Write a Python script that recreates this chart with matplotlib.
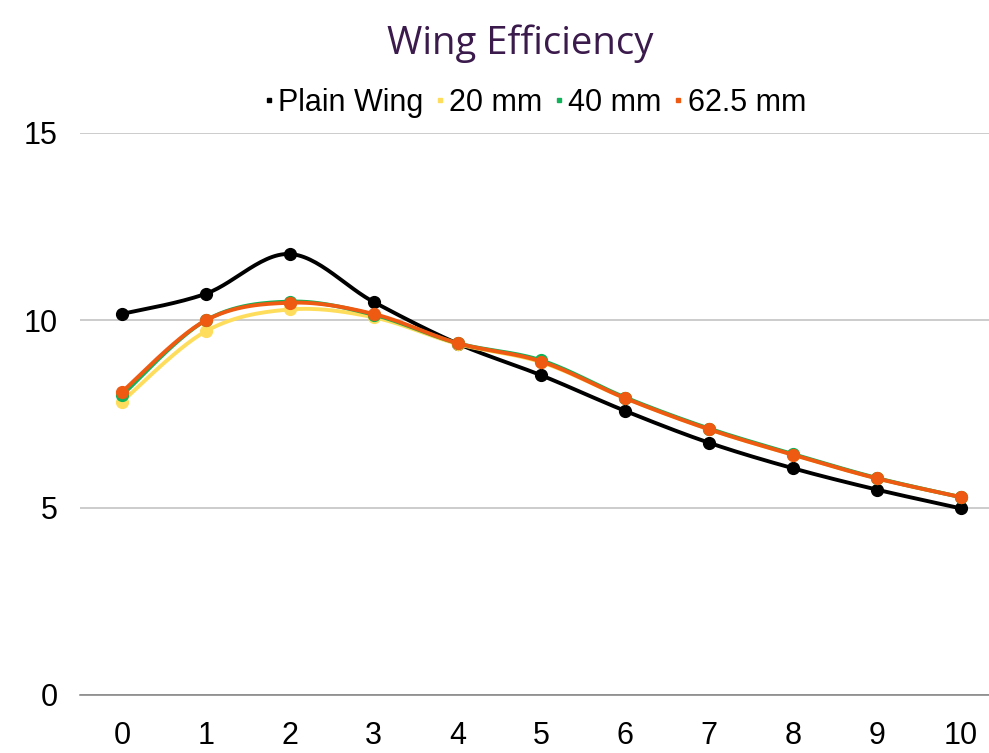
import matplotlib.pyplot as plt
import numpy as np
from matplotlib.lines import Line2D

plt.rcParams['font.family'] = ['Liberation Sans', 'DejaVu Sans']

# data
x_vals = [0, 1, 2, 3, 4, 5, 6, 7, 8, 9, 10]
plain_wing = [10.17, 10.71, 11.77, 10.49, 9.38, 8.53, 7.58, 6.73, 6.05, 5.48, 4.98]
wing_20mm = [7.83, 9.71, 10.29, 10.08, 9.37, 8.88, 7.92, 7.09, 6.41, 5.78, 5.28]
wing_40mm = [8.00, 10.00, 10.50, 10.15, 9.39, 8.93, 7.94, 7.11, 6.43, 5.79, 5.28]
wing_62mm = [8.09, 10.00, 10.47, 10.17, 9.39, 8.90, 7.92, 7.09, 6.41, 5.78, 5.28]

series = [
    ("Plain Wing", plain_wing, "#000000"),
    ("20 mm", wing_20mm, "#FFDD5C"),
    ("40 mm", wing_40mm, "#10B25A"),
    ("62.5 mm", wing_62mm, "#EE5A12"),
]


def smooth(xs, ys, n=30):
    """Catmull-Rom curve through the points, like Excel's smoothed line."""
    xs = np.asarray(xs, float)
    ys = np.asarray(ys, float)
    px = np.concatenate([[xs[0]], xs, [xs[-1]]])
    py = np.concatenate([[ys[0]], ys, [ys[-1]]])
    out_x, out_y = [], []
    t = np.linspace(0, 1, n)
    for i in range(1, len(px) - 2):
        p0, p1, p2, p3 = [np.array([px[j], py[j]]) for j in (i - 1, i, i + 1, i + 2)]
        c1 = p1 + (p2 - p0) / 6
        c2 = p2 - (p3 - p1) / 6
        pts = ((1 - t) ** 3)[:, None] * p1 + (3 * (1 - t) ** 2 * t)[:, None] * c1 \
            + (3 * (1 - t) * t ** 2)[:, None] * c2 + (t ** 3)[:, None] * p2
        out_x.extend(pts[:, 0])
        out_y.extend(pts[:, 1])
    return out_x, out_y


fig = plt.figure(figsize=(9.89, 7.53), dpi=100)
W, H = 989, 753
ax = fig.add_axes([80 / W, 1 - 695 / H, (989 - 80) / W, (695 - 133) / H])

for name, ys, color in series:
    sx, sy = smooth(x_vals, ys)
    ax.plot(sx, sy, color=color, lw=2.8, solid_capstyle="round", zorder=3)
    ax.plot(x_vals, ys, "o", color=color, markersize=8.5, zorder=3)

ax.set_xlim(-0.5, (989 - 122) / 83.9)
ax.set_ylim(0, 15)
ax.set_xticks(x_vals)
ax.set_yticks([0, 5, 10, 15])
ax.grid(axis="y", color="#BFBFBF", lw=1.1)
ax.set_axisbelow(True)
for side in ["top", "right", "left"]:
    ax.spines[side].set_visible(False)
ax.spines["bottom"].set_color("#808080")
ax.spines["bottom"].set_linewidth(1.1)
ax.tick_params(axis="both", length=0, labelsize=22)
ax.tick_params(axis="y", pad=16)
ax.tick_params(axis="x", pad=18.5)

fig.text(520 / W, 1 - 44 / H, "Wing Efficiency", ha="center", va="center",
         fontsize=27.5, color="#3B1A4C", family=["Open Sans", "DejaVu Sans"])

handles = [Line2D([], [], marker="s", linestyle="none", color=c, markersize=3.5)
           for _, _, c in series]
fig.legend(handles, [s[0] for s in series], loc="center",
           bbox_to_anchor=(535 / W, 1 - 103 / H), ncol=4, frameon=False,
           fontsize=22, handlelength=0.3, handletextpad=0.15, columnspacing=0.4,
           borderpad=0)

fig.savefig("out.png", dpi=100)
